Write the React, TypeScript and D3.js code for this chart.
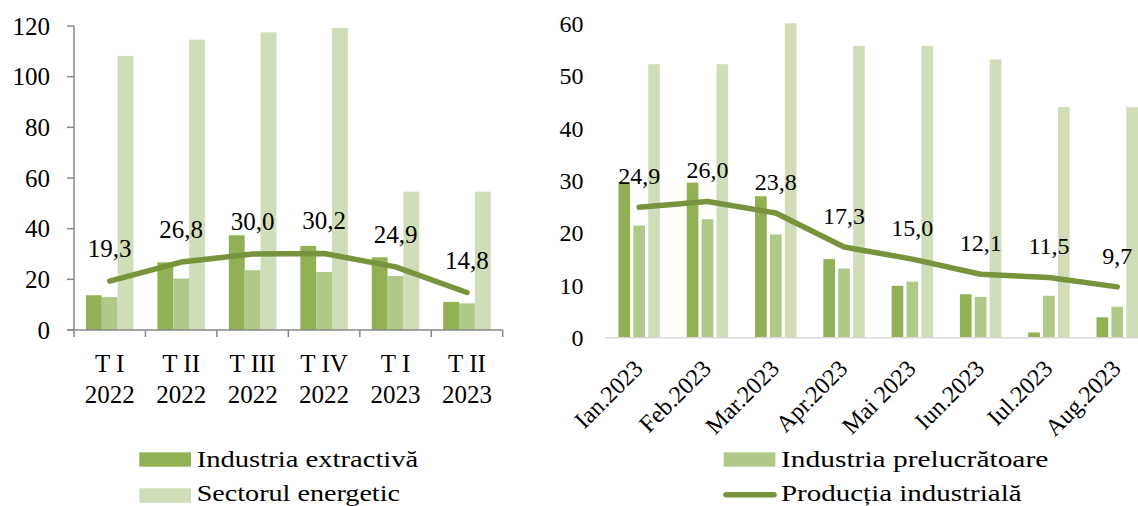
import React from 'react';
import * as d3 from 'd3';

// left panel: quarterly
const quarterNames = ['T I', 'T II', 'T III', 'T IV', 'T I', 'T II'];
const quarterYears = ['2022', '2022', '2022', '2022', '2023', '2023'];
const qExtractiva = [13.7, 26.7, 37.4, 33.2, 28.7, 11.1];
const qPrelucratoare = [13.0, 20.3, 23.6, 22.9, 21.3, 10.5];
const qEnergetic = [108.2, 114.6, 117.5, 119.2, 54.6, 54.6];
const qProductia = [19.3, 26.8, 30.0, 30.2, 24.9, 14.8];
const leftTicks = [0, 20, 40, 60, 80, 100, 120];

// right panel: monthly
const months = ['Ian.2023', 'Feb.2023', 'Mar.2023', 'Apr.2023', 'Mai 2023', 'Iun.2023', 'Iul.2023', 'Aug.2023'];
const mExtractiva = [29.7, 29.6, 27.0, 15.0, 9.9, 8.3, 1.0, 3.9];
const mPrelucratoare = [21.4, 22.6, 19.7, 13.2, 10.7, 7.8, 8.0, 5.9];
const mEnergetic = [52.2, 52.2, 60.0, 55.7, 55.7, 53.1, 44.0, 44.0];
const mProductia = [24.9, 26.0, 23.8, 17.3, 15.0, 12.1, 11.5, 9.7];
const rightTicks = [0, 10, 20, 30, 40, 50, 60];

const seriesKeys = ['extractiva', 'prelucratoare', 'energetic'];
const colors: Record<string, string> = {
  extractiva: '#92b155',
  prelucratoare: '#b0c989',
  energetic: '#d0ddb9',
  productia: '#77933c',
};

const font = '"Liberation Serif", "Times New Roman", serif';
const fmt = (v: number) => v.toFixed(1).replace('.', ',');

function LeftChart() {
  const x0 = d3.scaleBand<number>().domain(d3.range(quarterNames.length)).range([74, 502.7]);
  const x1 = d3.scaleBand<string>().domain(seriesKeys).range([0, x0.bandwidth()]).paddingOuter(0.754);
  const y = d3.scaleLinear().domain([0, 120]).range([330, 26]);
  const rows = quarterNames.map((_, i) => ({
    extractiva: qExtractiva[i],
    prelucratoare: qPrelucratoare[i],
    energetic: qEnergetic[i],
  }));
  const line = d3.line<number>()
    .x((_, i) => x0(i)! + x0.bandwidth() / 2)
    .y((d) => y(d));
  const axisColor = '#898989';

  return (
    <g fontFamily={font}>
      {rows.map((r, i) => (
        <g key={i} transform={`translate(${x0(i)},0)`}>
          {seriesKeys.map((k) => (
            <rect key={k} x={x1(k)} width={x1.bandwidth()} y={y((r as any)[k])}
              height={y(0) - y((r as any)[k])} fill={colors[k]} />
          ))}
        </g>
      ))}
      <line x1={74} x2={74} y1={y(120)} y2={y(0)} stroke={axisColor} strokeWidth={1.5} />
      {leftTicks.map((t) => (
        <g key={t}>
          <line x1={67} x2={74} y1={y(t)} y2={y(t)} stroke={axisColor} strokeWidth={1.5} />
          <text x={50} y={y(t)} dy="0.35em" textAnchor="end" fontSize={25}>{t}</text>
        </g>
      ))}
      <line x1={67} x2={502.7} y1={y(0)} y2={y(0)} stroke={axisColor} strokeWidth={1.5} />
      {d3.range(quarterNames.length + 1).map((i) => {
        const xx = 74 + i * x0.step();
        return <line key={i} x1={xx} x2={xx} y1={y(0)} y2={y(0) + 7} stroke={axisColor} strokeWidth={1.5} />;
      })}
      {quarterNames.map((q, i) => (
        <text key={i} x={x0(i)! + x0.bandwidth() / 2} textAnchor="middle" fontSize={25}>
          <tspan x={x0(i)! + x0.bandwidth() / 2} y={371.7}>{q}</tspan>
          <tspan x={x0(i)! + x0.bandwidth() / 2} y={403.3}>{quarterYears[i]}</tspan>
        </text>
      ))}
      <path d={line(qProductia)!} fill="none" stroke={colors.productia} strokeWidth={5.5}
        strokeLinecap="round" strokeLinejoin="round" />
      {qProductia.map((v, i) => (
        <text key={i} x={x0(i)! + x0.bandwidth() / 2} y={y(v) - 24} textAnchor="middle" fontSize={25}>{fmt(v)}</text>
      ))}
    </g>
  );
}

function RightChart() {
  const x0 = d3.scaleBand<number>().domain(d3.range(months.length)).range([605, 1151.4]);
  const x1 = d3.scaleBand<string>().domain(seriesKeys).range([0, x0.bandwidth()])
    .paddingInner(0.215).paddingOuter(0.9);
  const y = d3.scaleLinear().domain([0, 60]).range([337.7, 23.3]);
  const rows = months.map((_, i) => ({
    extractiva: mExtractiva[i],
    prelucratoare: mPrelucratoare[i],
    energetic: mEnergetic[i],
  }));
  const line = d3.line<number>()
    .x((_, i) => x0(i)! + x0.bandwidth() / 2)
    .y((d) => y(d));

  return (
    <g fontFamily={font}>
      {rows.map((r, i) => (
        <g key={i} transform={`translate(${x0(i)},0)`}>
          {seriesKeys.map((k) => (
            <rect key={k} x={x1(k)} width={x1.bandwidth()} y={y((r as any)[k])}
              height={y(0) - y((r as any)[k])} fill={colors[k]} />
          ))}
        </g>
      ))}
      <line x1={605} x2={1138} y1={y(0)} y2={y(0)} stroke="#d9d9d9" strokeWidth={1.5} />
      {rightTicks.map((t) => (
        <text key={t} x={583.5} y={y(t)} dy="0.35em" textAnchor="end" fontSize={24}>{t}</text>
      ))}
      {months.map((m, i) => (
        <text key={m} textAnchor="end" fontSize={24}
          transform={`translate(${x0(i)! + x0.bandwidth() / 2 + 5},370) rotate(-45)`}>{m}</text>
      ))}
      <path d={line(mProductia)!} fill="none" stroke={colors.productia} strokeWidth={5.5}
        strokeLinecap="round" strokeLinejoin="round" />
      {mProductia.map((v, i) => (
        <text key={i} x={x0(i)! + x0.bandwidth() / 2} y={y(v) - 23} textAnchor="middle" fontSize={24}>{fmt(v)}</text>
      ))}
    </g>
  );
}

function Legend() {
  return (
    <g fontFamily={font} fontSize={24}>
      <rect x={139.3} y={452.3} width={51.7} height={14.4} fill={colors.extractiva} />
      <text x={196.7} y={466.7} textLength={221.6} lengthAdjust="spacingAndGlyphs">Industria extractivă</text>
      <rect x={139.3} y={488.3} width={51.7} height={14.4} fill={colors.energetic} />
      <text x={196.7} y={500.5} textLength={203.3} lengthAdjust="spacingAndGlyphs">Sectorul energetic</text>
      <rect x={723.7} y={452.3} width={51.7} height={14.4} fill={colors.prelucratoare} />
      <text x={781} y={466.7} textLength={267.3} lengthAdjust="spacingAndGlyphs">Industria prelucrătoare</text>
      <line x1={726} x2={774} y1={494.7} y2={494.7} stroke={colors.productia} strokeWidth={5.5} strokeLinecap="round" />
      <text x={781} y={500.5} textLength={240.6} lengthAdjust="spacingAndGlyphs">Producția industrială</text>
    </g>
  );
}

export default function App() {
  return (
    <svg width={1138} height={506} style={{ position: 'absolute', left: 0, top: 0, background: '#fff' }}>
      <LeftChart />
      <RightChart />
      <Legend />
    </svg>
  );
}
